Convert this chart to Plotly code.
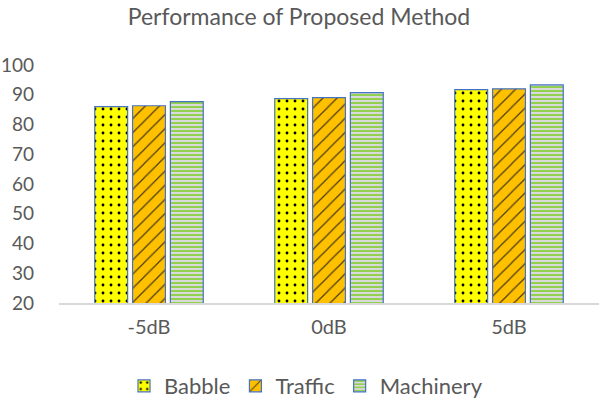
import plotly.graph_objects as go

categories = ["-5dB", "0dB", "5dB"]
babble = [86.0, 88.7, 91.7]
traffic = [86.3, 89.0, 92.0]
machinery = [87.7, 90.7, 93.3]

y_ticks = [20, 30, 40, 50, 60, 70, 80, 90, 100]

border = dict(color="#4472C4", width=1.2)
font_family = "Lato, 'Open Sans', sans-serif"
gray = "#595959"

W, H = 600, 401

fig = go.Figure()
fig.add_trace(go.Bar(
    name="Babble", x=categories, y=babble,
    marker=dict(color="#FFFF00", line=border,
                pattern=dict(shape=".", bgcolor="#FFFF00", fgcolor="#000000",
                             size=8, solidity=0.1, fillmode="replace")),
))
fig.add_trace(go.Bar(
    name="Traffic", x=categories, y=traffic,
    marker=dict(color="#FFC000", line=border,
                pattern=dict(shape="/", bgcolor="#FFC000", fgcolor="#1a1a1a",
                             size=10, solidity=0.12, fgopacity=0.8, fillmode="replace")),
))
fig.add_trace(go.Bar(
    name="Machinery", x=categories, y=machinery,
    marker=dict(color="#D9D9D9", line=border,
                pattern=dict(shape="-", bgcolor="#D9D9D9", fgcolor="#92D050",
                             size=4, solidity=0.5, fillmode="replace")),
))

fig.update_layout(
    width=W, height=H,
    margin=dict(l=59, r=1, t=65, b=98),
    paper_bgcolor="white", plot_bgcolor="white",
    barmode="group", bargap=0.37, bargroupgap=0.13,
    font=dict(family=font_family, color=gray, size=18),
    title=dict(text="Performance of Proposed Method", x=299 / W, xanchor="center",
               y=1 - 17 / H, yanchor="middle", yref="container",
               font=dict(size=23, color=gray, family=font_family)),
    legend=dict(orientation="h", x=306 / W, xanchor="center", xref="container",
                y=1 - 386 / H, yanchor="middle", yref="container",
                font=dict(size=22, color=gray), itemwidth=30, traceorder="normal"),
    xaxis=dict(showgrid=False, showline=True, linecolor="#D9D9D9", linewidth=1.5,
               ticks="", tickfont=dict(size=20, color=gray), automargin=False,
               ticklabelstandoff=5),
    yaxis=dict(range=[20, 100], tickvals=y_ticks, showgrid=False, showline=False,
               zeroline=False, ticks="", tickfont=dict(size=19, color=gray),
               ticklabelstandoff=24, automargin=False),
)

fig.write_html(
    "out.html",
    config={"displayModeBar": False},
    post_script="document.body.style.margin='0';document.body.style.overflow='hidden';",
)
